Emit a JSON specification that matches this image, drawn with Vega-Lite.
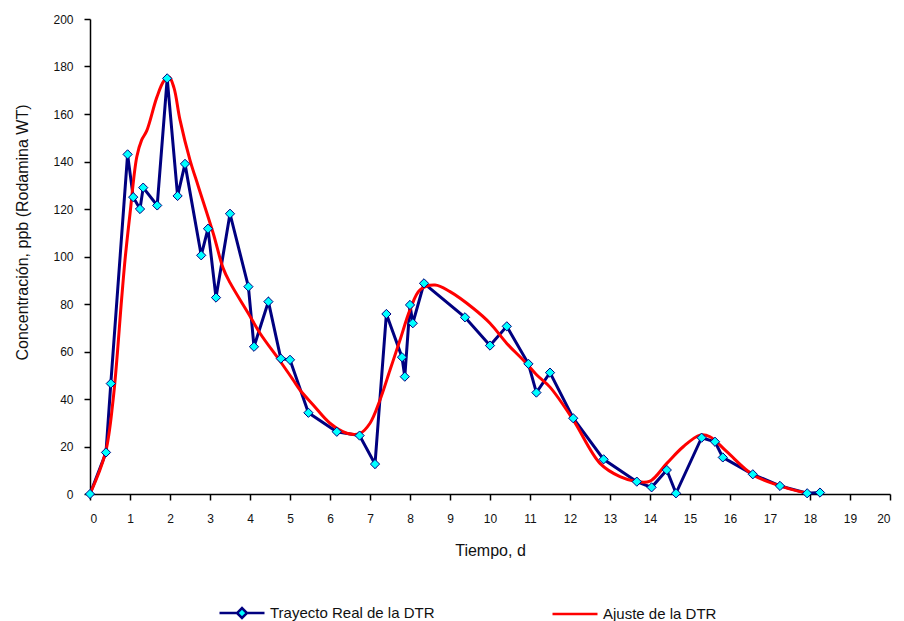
{
  "$schema": "https://vega.github.io/schema/vega-lite/v6.json",
  "width": 800,
  "height": 475,
  "autosize": {"type": "none"},
  "padding": {"left": 90, "top": 19, "right": 14, "bottom": 127},
  "background": "white",
  "config": {
    "view": {"stroke": null},
    "font": "Liberation Sans",
    "axis": {
      "domainColor": "#000000",
      "domainWidth": 1.5,
      "tickColor": "#000000",
      "tickWidth": 1.5,
      "tickSize": 6,
      "grid": false,
      "labelColor": "#111111",
      "labelFont": "Liberation Sans",
      "labelFontSize": 12,
      "titleFont": "Liberation Sans",
      "titleFontSize": 16,
      "titleFontWeight": "normal",
      "titleColor": "#111111"
    }
  },
  "datasets": {
    "real": [
      {"t": 0, "c": 0}, {"t": 0.4, "c": 17.5}, {"t": 0.52, "c": 46.5}, {"t": 0.94, "c": 143},
      {"t": 1.08, "c": 125}, {"t": 1.25, "c": 120}, {"t": 1.33, "c": 129}, {"t": 1.68, "c": 121.5},
      {"t": 1.93, "c": 175}, {"t": 2.19, "c": 125.5}, {"t": 2.375, "c": 139}, {"t": 2.78, "c": 100.5},
      {"t": 2.95, "c": 111.7}, {"t": 3.15, "c": 82.7}, {"t": 3.5, "c": 118}, {"t": 3.96, "c": 87.3},
      {"t": 4.1, "c": 62}, {"t": 4.46, "c": 81}, {"t": 4.77, "c": 57}, {"t": 5.0, "c": 56.5},
      {"t": 5.46, "c": 34.2}, {"t": 6.17, "c": 26.2}, {"t": 6.74, "c": 24.6}, {"t": 7.125, "c": 12.6},
      {"t": 7.41, "c": 75.8}, {"t": 7.8, "c": 57.6}, {"t": 7.87, "c": 49.4}, {"t": 8.0, "c": 79.6},
      {"t": 8.07, "c": 71.9}, {"t": 8.35, "c": 88.7}, {"t": 9.375, "c": 74.4}, {"t": 10.0, "c": 62.5},
      {"t": 10.42, "c": 70.6}, {"t": 10.96, "c": 54.8}, {"t": 11.16, "c": 42.7}, {"t": 11.5, "c": 51.1},
      {"t": 12.08, "c": 31.9}, {"t": 12.84, "c": 14.6}, {"t": 13.67, "c": 5.2}, {"t": 14.04, "c": 2.8},
      {"t": 14.42, "c": 10.1}, {"t": 14.65, "c": 0.3}, {"t": 15.29, "c": 23.7}, {"t": 15.625, "c": 22},
      {"t": 15.82, "c": 15.4}, {"t": 16.57, "c": 8.3}, {"t": 17.25, "c": 3.4}, {"t": 17.93, "c": 0.3},
      {"t": 18.25, "c": 0.6}
    ],
    "fit": [
      {"t": 0, "c": 0}, {"t": 0.38, "c": 17}, {"t": 0.58, "c": 40}, {"t": 0.79, "c": 82},
      {"t": 0.875, "c": 98.5}, {"t": 1.0, "c": 118}, {"t": 1.17, "c": 142}, {"t": 1.29, "c": 149},
      {"t": 1.42, "c": 153}, {"t": 1.67, "c": 167}, {"t": 1.85, "c": 174}, {"t": 1.98, "c": 175.5},
      {"t": 2.1, "c": 171}, {"t": 2.25, "c": 157.5}, {"t": 2.5, "c": 140.6}, {"t": 2.71, "c": 129.4},
      {"t": 3.08, "c": 109.8}, {"t": 3.33, "c": 95}, {"t": 3.5, "c": 89}, {"t": 3.96, "c": 76},
      {"t": 4.25, "c": 67.7}, {"t": 4.75, "c": 56}, {"t": 5.08, "c": 48}, {"t": 5.25, "c": 43.8},
      {"t": 5.58, "c": 37.5}, {"t": 6.0, "c": 29.8}, {"t": 6.42, "c": 25.6}, {"t": 6.75, "c": 25.5},
      {"t": 7.0, "c": 29.8}, {"t": 7.25, "c": 39.6}, {"t": 7.5, "c": 52.2}, {"t": 7.75, "c": 64.8},
      {"t": 8.0, "c": 77.5}, {"t": 8.25, "c": 85.9}, {"t": 8.625, "c": 88}, {"t": 9.0, "c": 85.2},
      {"t": 9.58, "c": 78.2}, {"t": 10.0, "c": 71.9}, {"t": 10.42, "c": 63.4}, {"t": 10.83, "c": 56.4},
      {"t": 11.17, "c": 50.1}, {"t": 11.5, "c": 45}, {"t": 12.08, "c": 31.2}, {"t": 12.75, "c": 12.9},
      {"t": 13.25, "c": 7.3}, {"t": 13.67, "c": 5.2}, {"t": 14.0, "c": 5.4}, {"t": 14.42, "c": 12.9},
      {"t": 14.83, "c": 19.9}, {"t": 15.25, "c": 24.8}, {"t": 15.5, "c": 24.1}, {"t": 15.92, "c": 17.8},
      {"t": 16.58, "c": 8}, {"t": 17.25, "c": 3.4}, {"t": 17.75, "c": 1}, {"t": 18.0, "c": 0.3}
    ]
  },
  "encoding": {
    "x": {
      "field": "t", "type": "quantitative",
      "scale": {"domain": [0, 20], "nice": false},
      "axis": {
        "title": "Tiempo, d",
        "values": [0,1,2,3,4,5,6,7,8,9,10,11,12,13,14,15,16,17,18,19,20],
        "labelPadding": 13,
        "titlePadding": 18
      }
    },
    "y": {
      "field": "c", "type": "quantitative",
      "scale": {"domain": [0, 200], "nice": false},
      "axis": {
        "title": "Concentración, ppb (Rodamina WT)",
        "values": [0,20,40,60,80,100,120,140,160,180,200],
        "labelPadding": 11,
        "titlePadding": 22,
        "titleY": 213
      }
    }
  },
  "layer": [
    {
      "data": {"name": "real"},
      "transform": [{"calculate": "'Trayecto Real de la DTR'", "as": "serie"}],
      "mark": {"type": "line", "strokeWidth": 3},
      "encoding": {
        "order": {"field": "t", "type": "quantitative"},
        "color": {
          "field": "serie", "type": "nominal",
          "scale": {"domain": ["Trayecto Real de la DTR", "Ajuste de la DTR"], "range": ["#000080", "#FF0000"]},
          "legend": {
            "title": null,
            "orient": "none",
            "legendX": 128,
            "legendY": 570,
            "direction": "horizontal",
            "columns": 2,
            "symbolType": "stroke",
            "symbolSize": 2025,
            "symbolStrokeWidth": 3,
            "labelFont": "Liberation Sans",
            "labelFontSize": 15,
            "labelLimit": 400,
            "labelColor": "#111111",
            "labelOffset": 4,
            "columnPadding": 112,
            "encode": {
              "symbols": {
                "update": {
                  "shape": {"signal": "datum.value === 'Trayecto Real de la DTR' ? 'M-1,0L-0.22,0L0,-0.22L0.22,0L0,0.22L-0.22,0ZM0.22,0L1,0' : 'stroke'"},
                  "fill": {"signal": "datum.value === 'Trayecto Real de la DTR' ? '#00FFFF' : 'transparent'"},
                  "strokeWidth": {"value": 2.5}
                }
              }
            }
          }
        }
      }
    },
    {
      "data": {"name": "fit"},
      "transform": [{"calculate": "'Ajuste de la DTR'", "as": "serie"}],
      "mark": {"type": "line", "strokeWidth": 3, "interpolate": "catmull-rom"},
      "encoding": {
        "order": {"field": "t", "type": "quantitative"},
        "color": {"field": "serie", "type": "nominal"}
      }
    },
    {
      "data": {"name": "real"},
      "mark": {"type": "point", "shape": "diamond", "filled": true, "fill": "#00FFFF", "stroke": "#000080", "strokeWidth": 1, "size": 85, "opacity": 1}
    }
  ]
}
